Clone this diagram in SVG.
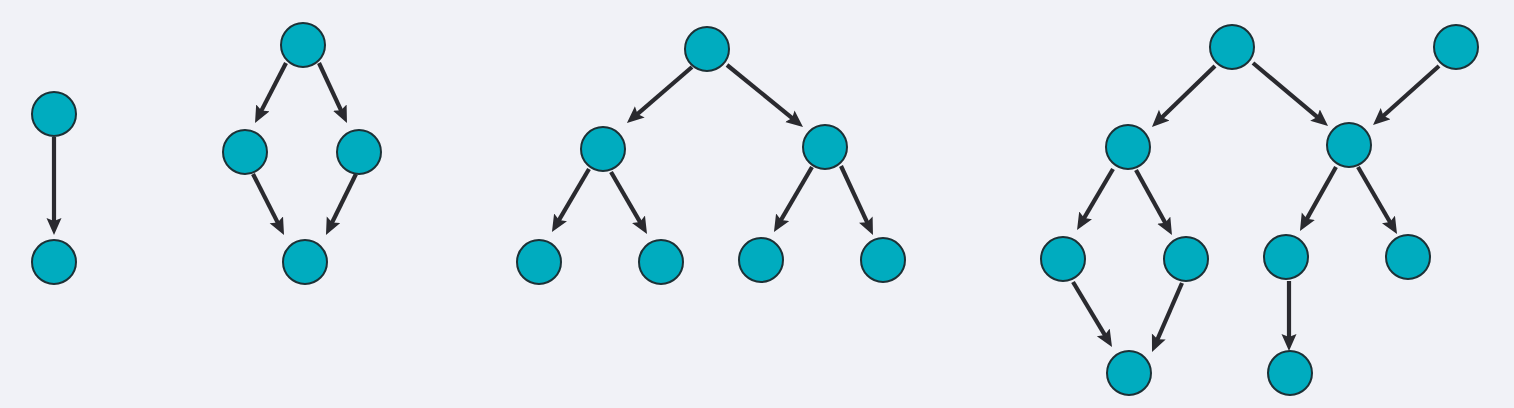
<svg xmlns="http://www.w3.org/2000/svg" width="1514" height="408" viewBox="0 0 1514 408">
<style>
.n{fill:#00acbf;stroke:#1c3136;stroke-width:2}
.e{stroke:#2a2a2f;stroke-width:4.2;fill:none;marker-end:url(#ah)}
</style>
<defs>
<marker id="ah" markerUnits="userSpaceOnUse" markerWidth="18" markerHeight="16" refX="9" refY="7.5" orient="auto">
<path d="M0,0 L17,7.5 L0,15 L3,7.5 z" fill="#2a2a2f"/>
</marker>
</defs>
<rect width="1514" height="408" fill="#f1f2f7"/>
<g id="connectors">
<line class="e" x1="54" y1="137" x2="54" y2="227"/>
<line class="e" x1="286" y1="63" x2="258.7" y2="115.9"/>
<line class="e" x1="319" y1="63" x2="343.6" y2="115.8"/>
<line class="e" x1="253" y1="174" x2="280.4" y2="227.9"/>
<line class="e" x1="356" y1="174" x2="329.5" y2="227.8"/>
<line class="e" x1="692" y1="67" x2="633" y2="117.8"/>
<line class="e" x1="727" y1="65" x2="796.8" y2="121.9"/>
<line class="e" x1="589" y1="169" x2="556" y2="225.1"/>
<line class="e" x1="611" y1="172" x2="643" y2="227.1"/>
<line class="e" x1="812" y1="167" x2="778" y2="225.1"/>
<line class="e" x1="841" y1="166" x2="869.6" y2="227.7"/>
<line class="e" x1="1215" y1="66" x2="1157.7" y2="121.4"/>
<line class="e" x1="1253" y1="63" x2="1321.9" y2="120.9"/>
<line class="e" x1="1439" y1="66" x2="1379" y2="119.7"/>
<line class="e" x1="1113" y1="169" x2="1081.1" y2="223.1"/>
<line class="e" x1="1136" y1="170" x2="1168.1" y2="228.1"/>
<line class="e" x1="1073" y1="282" x2="1107.9" y2="340.1"/>
<line class="e" x1="1182" y1="283" x2="1155.2" y2="344.7"/>
<line class="e" x1="1336" y1="167" x2="1303.9" y2="224.1"/>
<line class="e" x1="1358" y1="167" x2="1393" y2="227.2"/>
<line class="e" x1="1289" y1="281" x2="1289" y2="343"/>
</g>
<g id="a1"><circle class="n" cx="54" cy="114" r="22"/></g>
<g id="a2"><circle class="n" cx="54" cy="262" r="22"/></g>
<g id="b-top"><circle class="n" cx="303" cy="45" r="22"/></g>
<g id="b-left"><circle class="n" cx="245" cy="152" r="22"/></g>
<g id="b-right"><circle class="n" cx="359" cy="152" r="22"/></g>
<g id="b-bottom"><circle class="n" cx="305" cy="262" r="22"/></g>
<g id="c-root"><circle class="n" cx="707" cy="49" r="22"/></g>
<g id="c-ml"><circle class="n" cx="603" cy="149" r="22"/></g>
<g id="c-mr"><circle class="n" cx="825" cy="147" r="22"/></g>
<g id="c-l1"><circle class="n" cx="539" cy="262" r="22"/></g>
<g id="c-l2"><circle class="n" cx="661" cy="262" r="22"/></g>
<g id="c-l3"><circle class="n" cx="761" cy="260" r="22"/></g>
<g id="c-l4"><circle class="n" cx="883" cy="260" r="22"/></g>
<g id="d-root"><circle class="n" cx="1232" cy="47" r="22"/></g>
<g id="d-root2"><circle class="n" cx="1456" cy="47" r="22"/></g>
<g id="d-ml"><circle class="n" cx="1128" cy="147" r="22"/></g>
<g id="d-mr"><circle class="n" cx="1349" cy="145" r="22"/></g>
<g id="d-l1"><circle class="n" cx="1063" cy="259" r="22"/></g>
<g id="d-l2"><circle class="n" cx="1186" cy="259" r="22"/></g>
<g id="d-l3"><circle class="n" cx="1286" cy="257" r="22"/></g>
<g id="d-l4"><circle class="n" cx="1408" cy="257" r="22"/></g>
<g id="d-b1"><circle class="n" cx="1129" cy="373" r="22"/></g>
<g id="d-b2"><circle class="n" cx="1290" cy="373" r="22"/></g>
</svg>
